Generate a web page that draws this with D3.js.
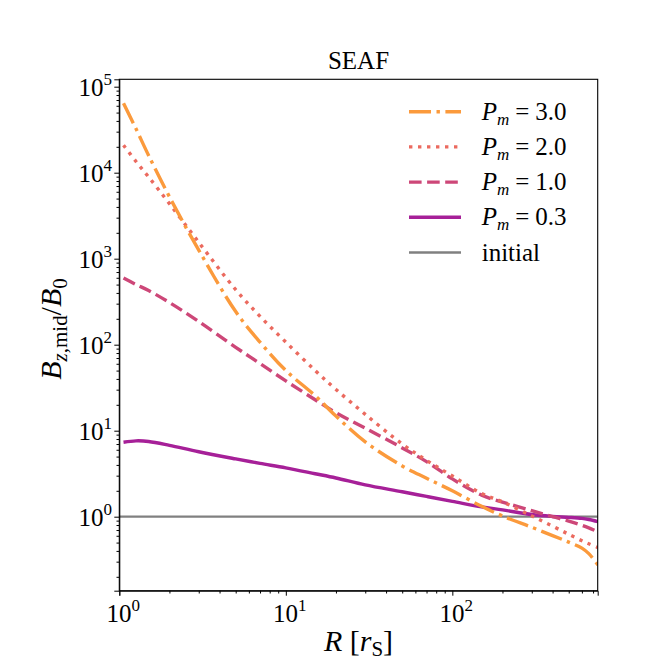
<!DOCTYPE html>
<html><head><meta charset="utf-8">
<script src="https://cdn.jsdelivr.net/npm/d3@7"></script>
<style>body{margin:0;background:#fff}svg{display:block}text{font-family:"Liberation Serif","DejaVu Serif",serif;fill:#000}</style>
</head><body>
<script>
const R = [1.06, 1.26, 1.5, 2, 3, 5, 7, 10, 15, 20, 30, 50, 70, 100, 150, 200, 300, 400, 500, 600, 660, 750];
const Pm30 = [64120, 32360, 15850, 5248, 1259, 242.7, 107.2, 50.1, 25.5, 14.8, 7.41, 3.89, 2.80, 2.0, 1.32, 1.02, 0.753, 0.603, 0.506, 0.431, 0.372, 0.274];
const Pm20 = [20890, 13490, 8913, 4365, 1549, 436.5, 213.8, 107.2, 50.1, 30.2, 15.5, 7.0, 4.52, 2.97, 1.86, 1.49, 1.02, 0.776, 0.624, 0.525, 0.484, 0.437];
const Pm10 = [595.7, 501.2, 426.6, 309.0, 186.2, 93.3, 60.3, 38.0, 22.9, 16.2, 10.7, 6.31, 4.37, 2.75, 1.78, 1.48, 1.175, 1.0, 0.891, 0.794, 0.741, 0.668];
const Pm03 = [7.35, 7.62, 7.50, 6.76, 5.69, 4.70, 4.17, 3.70, 3.16, 2.82, 2.34, 1.95, 1.72, 1.51, 1.30, 1.20, 1.06, 1.007, 0.982, 0.955, 0.927, 0.875];
const initialR = [1, 750];
const initialB = [1, 1];
const legendLabels = ["3.0", "2.0", "1.0", "0.3"];
const xTicks = [1, 10, 100];
const yTicks = [1, 10, 100, 1000, 10000, 100000];

const W = 664, H = 664;
const L = 119.3, Rt = 597.7, T = 79.3, B = 590.7;
const svg = d3.select("body").append("svg").attr("width", W).attr("height", H);
const x = d3.scaleLog().domain([1, Math.pow(10, 2.873)]).range([L, Rt]);
const y = d3.scaleLog().domain([Math.pow(10, -0.8605), Math.pow(10, 5.086)]).range([B, T]);

svg.append("clipPath").attr("id", "clip").append("rect")
  .attr("x", L).attr("y", T).attr("width", Rt - L).attr("height", B - T);

const series = [
  {vals: Pm30, color: "#fb9a3c", dash: "22,5.5,3.4,5.5", w: 3.4},
  {vals: Pm20, color: "#eb6a5f", dash: "3.4,5.6", w: 3.4},
  {vals: Pm10, color: "#cd4778", dash: "12.6,5.5", w: 3.4},
  {vals: Pm03, color: "#a62098", dash: null, w: 3.4}
];
const line = d3.line().x(d => x(d[0])).y(d => y(d[1])).curve(d3.curveCatmullRom.alpha(0.5));
const g = svg.append("g").attr("clip-path", "url(#clip)");
g.append("path").datum(initialR.map((r, i) => [r, initialB[i]]))
  .attr("d", line).attr("fill", "none").attr("stroke", "#808080").attr("stroke-width", 2.3);
series.slice().reverse().forEach(s => {
  g.append("path").datum(R.map((r, i) => [r, s.vals[i]]))
    .attr("d", line).attr("fill", "none").attr("stroke", s.color)
    .attr("stroke-width", s.w).attr("stroke-dasharray", s.dash);
});

// axes
const xAxis = d3.axisBottom(x).tickValues(xTicks).tickSize(5).tickFormat("");
const yAxis = d3.axisLeft(y).tickValues(yTicks).tickSize(5).tickFormat("");
const minorX = [], minorY = [];
for (let e = 0; e < 3; e++) for (let m = 2; m <= 9; m++) { const v = m * Math.pow(10, e); if (v <= x.domain()[1]) minorX.push(v); }
for (let e = -1; e < 6; e++) for (let m = 2; m <= 9; m++) { const v = m * Math.pow(10, e); if (v >= y.domain()[0] && v <= y.domain()[1]) minorY.push(v); }
svg.append("g").attr("transform", `translate(0,${B})`).call(xAxis);
svg.append("g").attr("transform", `translate(0,${B})`).call(d3.axisBottom(x).tickValues(minorX).tickSize(2.8).tickFormat("")).select(".domain").remove();
svg.append("g").attr("transform", `translate(${L},0)`).call(yAxis);
svg.append("g").attr("transform", `translate(${L},0)`).call(d3.axisLeft(y).tickValues(minorY).tickSize(2.8).tickFormat("")).select(".domain").remove();
svg.selectAll(".domain").attr("stroke", "#000").attr("stroke-width", 1);
svg.selectAll(".tick line").attr("stroke", "#000").attr("stroke-width", 1);
svg.append("rect").attr("x", L).attr("y", T).attr("width", Rt - L).attr("height", B - T)
  .attr("fill", "none").attr("stroke", "#000").attr("stroke-width", 1.1);

function pow10(sel, e) {
  sel.append("tspan").text("10");
  sel.append("tspan").attr("dy", -11).attr("font-size", 17).text(e);
}
xTicks.forEach(v => {
  const t = svg.append("text").attr("x", x(v) + 4).attr("y", 622).attr("text-anchor", "middle").attr("font-size", 25);
  pow10(t, Math.round(Math.log10(v)));
});
yTicks.forEach(v => {
  const t = svg.append("text").attr("x", 112).attr("y", y(v) + 9).attr("text-anchor", "end").attr("font-size", 25);
  pow10(t, Math.round(Math.log10(v)));
});

// title
svg.append("text").attr("x", (L + Rt) / 2).attr("y", 69).attr("text-anchor", "middle").attr("font-size", 25).text("SEAF");

// x label
const xl = svg.append("text").attr("x", (L + Rt) / 2).attr("y", 651).attr("text-anchor", "middle").attr("font-size", 30);
xl.append("tspan").attr("font-style", "italic").text("R");
xl.append("tspan").text(" [");
xl.append("tspan").attr("font-style", "italic").text("r");
xl.append("tspan").attr("font-size", 21).attr("dy", 5).text("S");
xl.append("tspan").attr("dy", -5).text("]");

// y label
const yl = svg.append("text").attr("transform", `translate(61,329) rotate(-90)`).attr("text-anchor", "middle").attr("font-size", 30);
yl.append("tspan").attr("font-style", "italic").text("B");
yl.append("tspan").attr("font-size", 21).attr("dy", 6).attr("font-style", "italic").text("z");
yl.append("tspan").attr("font-size", 21).text(",mid");
yl.append("tspan").attr("dy", -6).text("/");
yl.append("tspan").attr("font-style", "italic").text("B");
yl.append("tspan").attr("font-size", 21).attr("dy", 6).text("0");

// legend
const ly0 = 111.7, ldy = 35.2;
series.forEach((s, i) => {
  const yy = ly0 + i * ldy;
  svg.append("line").attr("x1", 409).attr("x2", 461).attr("y1", yy).attr("y2", yy)
    .attr("stroke", s.color).attr("stroke-width", s.w).attr("stroke-dasharray", s.dash);
  const t = svg.append("text").attr("x", 481.7).attr("y", yy + 8).attr("font-size", 25);
  t.append("tspan").attr("font-style", "italic").text("P");
  t.append("tspan").attr("font-style", "italic").attr("font-size", 17).attr("dy", 5).text("m");
  t.append("tspan").attr("dy", -5).attr("dx", 6).text("=");
  t.append("tspan").attr("dx", 6).text(legendLabels[i]);
});
{
  const yy = ly0 + 4 * ldy;
  svg.append("line").attr("x1", 409).attr("x2", 461).attr("y1", yy).attr("y2", yy)
    .attr("stroke", "#808080").attr("stroke-width", 2.3);
  svg.append("text").attr("x", 481.7).attr("y", yy + 8).attr("font-size", 25).text("initial");
}
</script>
</body></html>
